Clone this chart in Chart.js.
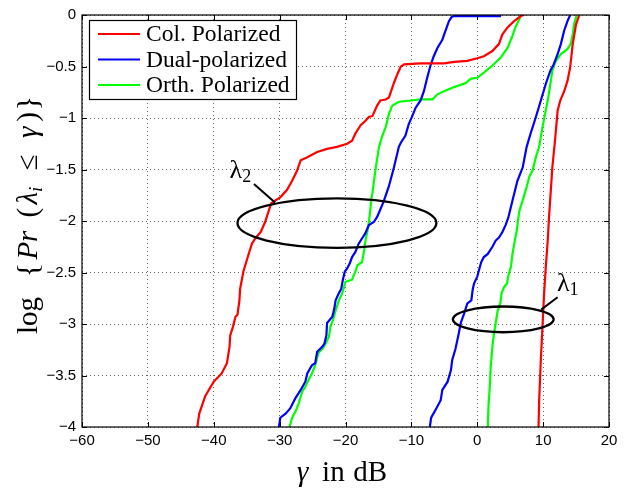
<!DOCTYPE html>
<html><head><meta charset="utf-8">
<script src="https://cdn.jsdelivr.net/npm/chart.js@4.4.1/dist/chart.umd.min.js"></script>
<style>html,body{margin:0;padding:0;background:#fff;}#wrap{width:626px;height:489px;}</style>
</head><body><div id="wrap"><canvas id="c" width="626" height="489"></canvas></div>
<script>
const xTicks = [-60,-50,-40,-30,-20,-10,0,10,20];
const yTicks = [-4,-3.5,-3,-2.5,-2,-1.5,-1,-0.5,0];
const seriesNames = ['Col. Polarized','Dual-polarized','Orth. Polarized'];
const seriesColors = ['#ff0000','#0000ff','#00ff00'];

// Col. Polarized, lambda2 (left) and lambda1 (right)
const colL2X = [-42.5,-42.2,-41.3,-40.0,-38.8,-38.0,-37.6,-37.5,-37.1,-36.7,-36.4,-36.1,-36.0,-35.5,-34.7,-34.2,-33.7,-32.9,-32.2,-31.8,-31.3,-30.65,-29.9,-28.9,-28.1,-27.35,-26.8,-25.8,-24.3,-22.8,-21.3,-19.75,-19.0,-18.5,-17.7,-17.0,-16.45,-15.9,-15.2,-14.7,-13.9,-13.4,-12.65,-12.1,-11.6,-11.1,-8.6,-5.05,-3.5,-1.5,0.0,1.0,2.3,3.3,3.8,4.6,5.6,6.6,7.1];
const colL2Y = [-4.0,-3.87,-3.70,-3.56,-3.48,-3.38,-3.22,-3.11,-3.03,-2.93,-2.91,-2.77,-2.66,-2.49,-2.32,-2.22,-2.17,-2.11,-2.01,-1.93,-1.83,-1.80,-1.77,-1.70,-1.61,-1.51,-1.41,-1.38,-1.33,-1.30,-1.28,-1.25,-1.22,-1.15,-1.07,-1.03,-0.99,-0.98,-0.88,-0.83,-0.82,-0.80,-0.66,-0.57,-0.50,-0.48,-0.47,-0.47,-0.455,-0.445,-0.42,-0.40,-0.35,-0.28,-0.19,-0.12,-0.06,-0.01,0];
const colL1X = [9.3,9.4,9.65,9.9,10.15,10.4,10.7,10.9,11.4,11.8,12.2,12.6,13.2,13.7,14.1,14.5,15.0,15.5];
const colL1Y = [-4.0,-3.74,-3.35,-3.03,-2.70,-2.45,-2.19,-1.96,-1.48,-1.22,-0.93,-0.83,-0.74,-0.64,-0.51,-0.28,-0.09,0];

// Dual-polarized
const dualL2X = [-30.1,-29.9,-29.1,-28.4,-27.6,-26.8,-26.1,-25.8,-25.1,-24.6,-24.3,-23.5,-23.2,-22.9,-22.8,-22.0,-21.7,-21.5,-21.0,-20.65,-20.4,-20.1,-19.75,-19.35,-19.0,-18.5,-18.0,-17.5,-17.0,-16.45,-15.7,-15.2,-14.8,-14.2,-13.4,-12.65,-11.9,-11.6,-10.9,-10.4,-9.85,-9.35,-8.6,-8.1,-7.6,-7.1,-6.6,-6.05,-5.3,-4.8,-4.3,-3.9,-3.5,3.6];
const dualL2Y = [-4.0,-3.91,-3.87,-3.82,-3.72,-3.64,-3.56,-3.48,-3.40,-3.38,-3.27,-3.22,-3.19,-3.11,-2.99,-2.93,-2.85,-2.77,-2.70,-2.66,-2.57,-2.49,-2.46,-2.41,-2.35,-2.30,-2.22,-2.17,-2.12,-2.04,-2.01,-1.96,-1.90,-1.81,-1.66,-1.48,-1.28,-1.24,-1.17,-1.06,-0.98,-0.90,-0.83,-0.74,-0.61,-0.49,-0.40,-0.32,-0.24,-0.15,-0.06,-0.02,-0.01,-0.01];
const dualL1X = [-7.2,-7.0,-6.3,-5.55,-5.3,-4.5,-4.0,-3.8,-3.3,-2.8,-2.5,-2.0,-1.5,-0.9,-0.7,-0.5,0.0,0.25,0.6,1.0,1.6,2.3,2.8,3.3,3.8,4.3,4.7,5.35,6.1,6.9,7.5,8.1,8.9,9.65,10.4,11.1,11.6,12.2,12.7,13.2,13.7,14.1];
const dualL1Y = [-4.0,-3.91,-3.83,-3.74,-3.64,-3.56,-3.45,-3.35,-3.24,-3.09,-2.99,-2.90,-2.80,-2.77,-2.67,-2.61,-2.54,-2.48,-2.40,-2.35,-2.32,-2.25,-2.19,-2.16,-2.11,-2.04,-1.97,-1.80,-1.61,-1.48,-1.28,-1.15,-0.99,-0.83,-0.67,-0.54,-0.48,-0.38,-0.28,-0.15,-0.06,0];

// Orth. Polarized
const orthL2X = [-28.5,-28.1,-27.6,-27.1,-26.6,-26.1,-25.6,-25.1,-24.6,-24.1,-23.5,-23.0,-22.5,-22.3,-21.9,-21.5,-21.0,-20.5,-20.3,-20.0,-19.0,-18.5,-18.2,-17.5,-17.2,-17.0,-16.7,-16.45,-16.2,-16.1,-15.9,-15.4,-14.9,-14.4,-13.9,-13.4,-12.9,-12.1,-11.6,-10.1,-8.6,-6.8,-6.05,-5.05,-3.5,-1.75,-1.0,0.0,1.0,2.3,3.6,4.6,5.35,5.85,6.4,6.7];
const orthL2Y = [-4.0,-3.91,-3.85,-3.77,-3.66,-3.61,-3.54,-3.48,-3.40,-3.28,-3.24,-3.19,-3.12,-3.03,-2.96,-2.87,-2.77,-2.70,-2.66,-2.59,-2.57,-2.49,-2.43,-2.40,-2.30,-2.20,-2.11,-2.01,-1.87,-1.80,-1.72,-1.48,-1.28,-1.17,-1.09,-0.96,-0.88,-0.85,-0.84,-0.83,-0.82,-0.82,-0.77,-0.74,-0.70,-0.66,-0.62,-0.61,-0.56,-0.49,-0.41,-0.32,-0.20,-0.11,-0.04,0];
const orthL1X = [1.6,1.7,1.9,2.05,2.3,2.55,2.8,3.1,3.5,3.7,4.1,4.5,4.8,5.1,5.35,5.7,6.0,6.2,6.4,6.9,7.5,7.9,8.4,8.9,9.4,9.9,10.3,10.7,11.1,11.4,11.9,12.7,13.7,14.2,14.5,14.7,15.1];
const orthL1Y = [-4.0,-3.80,-3.61,-3.41,-3.22,-3.09,-2.99,-2.87,-2.80,-2.70,-2.64,-2.61,-2.51,-2.45,-2.32,-2.19,-2.09,-1.99,-1.90,-1.80,-1.67,-1.57,-1.51,-1.38,-1.28,-1.09,-0.96,-0.83,-0.67,-0.54,-0.45,-0.38,-0.33,-0.28,-0.19,-0.09,0];

// annotation ellipses: [centerX, centerY, radiusX (dB), radiusY]
const ellipseL2 = [-21.3, -2.02, 15.1, 0.24];
const ellipseL1 = [3.95, -2.955, 7.65, 0.125];
// labels: text, subscript, x, y (data units); pointer from/to (data units)
const labelL2 = ['λ', '2', -37.6, -1.50];
const pointerL2 = [-33.9, -1.64, -30.7, -1.82];
const labelL1 = ['λ', '1', 12.1, -2.60];
const pointerL1 = [12.2, -2.74, 9.7, -2.86];

const curves = [
  [colL2X, colL2Y, 0], [colL1X, colL1Y, 0],
  [dualL2X, dualL2Y, 1], [dualL1X, dualL1Y, 1],
  [orthL2X, orthL2Y, 2], [orthL1X, orthL1Y, 2]
];
const datasets = curves.map(([xs, ys, s]) => ({
  label: seriesNames[s],
  data: xs.map((x, i) => ({x: x, y: ys[i]})),
  borderColor: seriesColors[s],
  backgroundColor: seriesColors[s],
  borderWidth: 2.2,
  pointRadius: 0,
  tension: 0,
  fill: false
}));

const fmt = v => (v < 0 ? '\u2212' : '') + Math.abs(v);

const SERIF = '"Liberation Serif", "DejaVu Serif", serif';
const SANS = '"Liberation Sans", Arial, sans-serif';

// draw text pieces centred at (cx, cy); p.g = weight of the gap after the piece
function drawPieces(ctx, pieces, cx, cy, targetW) {
  let total = 0, gw = 0;
  pieces.forEach((p, i) => { ctx.font = p.font; p.w = ctx.measureText(p.t).width; total += p.w; if (i < pieces.length - 1) gw += (p.g || 0); });
  const unit = targetW && gw > 0 ? Math.max(0, (targetW - total) / gw) : 0;
  let x = cx - (total + unit * gw) / 2;
  ctx.textBaseline = 'alphabetic';
  ctx.textAlign = 'left';
  pieces.forEach(p => { ctx.font = p.font; ctx.fillText(p.t, x, cy + (p.dy || 0)); x += p.w + unit * (p.g || 0); });
}

const decor = {
  id: 'decor',
  afterDraw(chart) {
    const ctx = chart.ctx, xs = chart.scales.x, ys = chart.scales.y, a = chart.chartArea;
    ctx.save();
    // frame
    ctx.strokeStyle = '#000'; ctx.lineWidth = 1.2;
    ctx.strokeRect(a.left, a.top, a.right - a.left, a.bottom - a.top);
    // inward ticks
    ctx.lineWidth = 1;
    ctx.beginPath();
    xTicks.forEach(v => { const p = Math.round(xs.getPixelForValue(v)) + 0.5;
      ctx.moveTo(p, a.bottom); ctx.lineTo(p, a.bottom - 5);
      ctx.moveTo(p, a.top); ctx.lineTo(p, a.top + 5); });
    yTicks.forEach(v => { const p = Math.round(ys.getPixelForValue(v)) + 0.5;
      ctx.moveTo(a.left, p); ctx.lineTo(a.left + 5, p);
      ctx.moveTo(a.right, p); ctx.lineTo(a.right - 5, p); });
    ctx.stroke();

    // ellipses
    ctx.strokeStyle = '#000'; ctx.lineWidth = 2.3;
    [ellipseL2, ellipseL1].forEach(e => {
      const cx = xs.getPixelForValue(e[0]), cy = ys.getPixelForValue(e[1]);
      const rx = Math.abs(xs.getPixelForValue(e[0] + e[2]) - cx);
      const ry = Math.abs(ys.getPixelForValue(e[1] + e[3]) - cy);
      ctx.beginPath(); ctx.ellipse(cx, cy, rx, ry, 0, 0, Math.PI * 2); ctx.stroke();
    });
    // pointers
    ctx.lineWidth = 2;
    [pointerL2, pointerL1].forEach(p => {
      ctx.beginPath();
      ctx.moveTo(xs.getPixelForValue(p[0]), ys.getPixelForValue(p[1]));
      ctx.lineTo(xs.getPixelForValue(p[2]), ys.getPixelForValue(p[3]));
      ctx.stroke();
    });
    // labels
    ctx.fillStyle = '#000';
    [labelL2, labelL1].forEach(l => {
      const x = xs.getPixelForValue(l[2]), y = ys.getPixelForValue(l[3]);
      ctx.textAlign = 'left'; ctx.textBaseline = 'alphabetic';
      ctx.font = '26px ' + SERIF;
      ctx.fillText(l[0], x, y + 8);
      const w = ctx.measureText(l[0]).width;
      ctx.font = '18px ' + SERIF;
      ctx.fillText(l[1], x + w, y + 12);
    });

    // legend
    const lx = 89.5, ly = 20.5, lw = 207, lh = 79;
    ctx.fillStyle = '#fff'; ctx.fillRect(lx, ly, lw, lh);
    ctx.strokeStyle = '#000'; ctx.lineWidth = 1.2; ctx.strokeRect(lx, ly, lw, lh);
    const rows = [34, 59.5, 85];
    seriesNames.forEach((n, i) => {
      ctx.strokeStyle = seriesColors[i]; ctx.lineWidth = 2.2;
      ctx.beginPath(); ctx.moveTo(98, rows[i]); ctx.lineTo(140, rows[i]); ctx.stroke();
      ctx.fillStyle = '#000'; ctx.font = '23.5px ' + SERIF;
      ctx.textAlign = 'left'; ctx.textBaseline = 'middle';
      ctx.fillText(n, 146, rows[i] + 1);
    });

    // x title
    ctx.fillStyle = '#000';
    drawPieces(ctx, [
      {t: 'γ', font: 'italic 29px ' + SERIF, g: 1.6},
      {t: 'in', font: '29px ' + SERIF, g: 1},
      {t: 'dB', font: '29px ' + SERIF}
    ], 342, 481, 90);
    // y title
    ctx.save();
    ctx.translate(37, 215);
    ctx.rotate(-Math.PI / 2);
    drawPieces(ctx, [
      {t: 'log', font: '29px ' + SERIF, g: 1.2},
      {t: '{', font: '30px ' + SERIF, g: 0.2},
      {t: 'Pr', font: 'italic 29px ' + SERIF, g: 0.8},
      {t: '(', font: '29px ' + SERIF, g: 0.2},
      {t: 'λ', font: 'italic 29px ' + SERIF, g: 0},
      {t: 'i', font: 'italic 19px ' + SERIF, dy: 5, g: 1},
      {t: '≤', font: '29px ' + SERIF, g: 1},
      {t: 'γ', font: 'italic 29px ' + SERIF, g: 0.3},
      {t: ')', font: '29px ' + SERIF, g: 0.1},
      {t: '}', font: '30px ' + SERIF}
    ], 0, 0, 238);
    ctx.restore();
    ctx.restore();
  }
};

new Chart(document.getElementById('c'), {
  type: 'line',
  data: { datasets: datasets },
  options: {
    responsive: false,
    animation: false,
    devicePixelRatio: 1,
    layout: { padding: { left: 0, top: 14, right: 17, bottom: 0 } },
    plugins: { legend: { display: false }, tooltip: { enabled: false } },
    scales: {
      x: {
        type: 'linear', min: -60, max: 20,
        afterBuildTicks: s => { s.ticks = xTicks.map(v => ({value: v})); },
        afterFit: s => { s.height = 62; },
        ticks: { callback: fmt, color: '#000', font: { family: SANS, size: 15 }, padding: 5, maxRotation: 0, autoSkip: false },
        grid: { color: 'rgba(0,0,0,0.6)', lineWidth: 1, drawTicks: false },
        border: { display: false, dash: [1, 3] }
      },
      y: {
        type: 'linear', min: -4, max: 0,
        afterBuildTicks: s => { s.ticks = yTicks.map(v => ({value: v})); },
        afterFit: s => { s.width = 82; },
        ticks: { callback: fmt, color: '#000', font: { family: SANS, size: 15 }, padding: 6, autoSkip: false },
        grid: { color: 'rgba(0,0,0,0.6)', lineWidth: 1, drawTicks: false },
        border: { display: false, dash: [1, 3] }
      }
    }
  },
  plugins: [decor]
});
</script>
</body></html>
